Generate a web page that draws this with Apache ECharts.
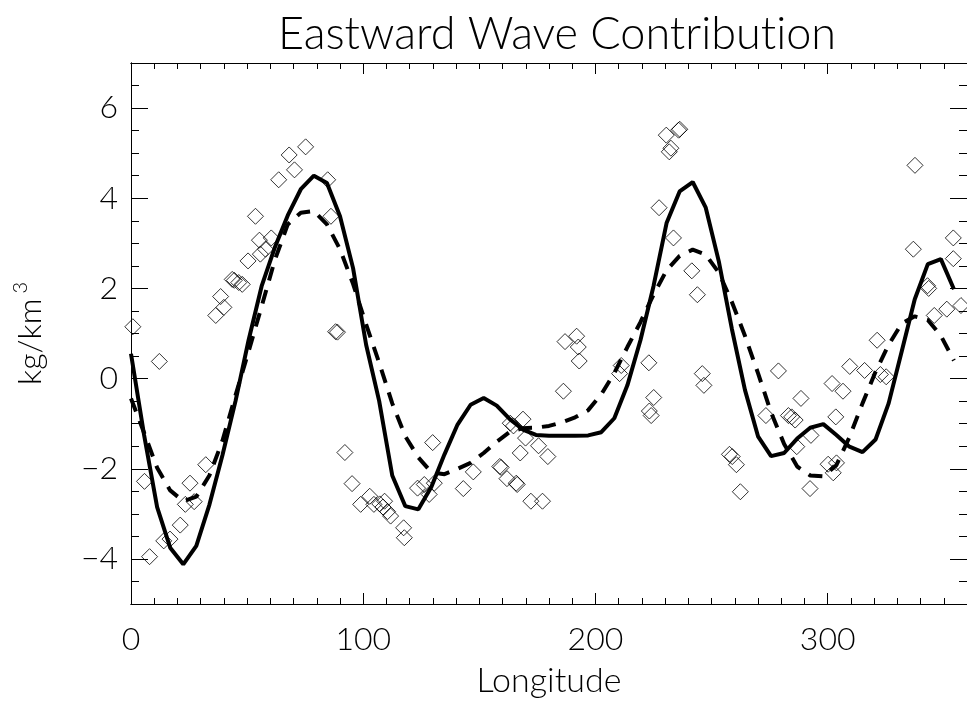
<!DOCTYPE html>
<html>
<head>
<meta charset="utf-8">
<title>Eastward Wave Contribution</title>
<script src="https://cdn.jsdelivr.net/npm/echarts@6/dist/echarts.min.js"></script>
<style>
  html, body { margin: 0; padding: 0; background: #fff; }
  #chart { width: 967px; height: 703px; }
</style>
</head>
<body>
<div id="chart"></div>
<script>
// longitude grid of the two model curves (deg)
const lonGrid = [0, 5.625, 11.25, 16.875, 22.5, 28.125, 33.75, 39.375, 45, 50.625, 56.25, 61.875,
  67.5, 73.125, 78.75, 84.375, 90, 95.625, 101.25, 106.875, 112.5, 118.125, 123.75, 129.375,
  135, 140.625, 146.25, 151.875, 157.5, 163.125, 168.75, 174.375, 180, 185.625, 191.25, 196.875,
  202.5, 208.125, 213.75, 219.375, 225, 230.625, 236.25, 241.875, 247.5, 253.125, 258.75, 264.375,
  270, 275.625, 281.25, 286.875, 292.5, 298.125, 303.75, 309.375, 315, 320.625, 326.25, 331.875,
  337.5, 343.125, 348.75, 354.375]

// solid curve
const solidVals = [0.55, -1.25, -2.85, -3.75, -4.12, -3.71, -2.8, -1.7, -0.5, 0.85, 2.05, 2.9,
  3.62, 4.2, 4.5, 4.34, 3.6, 2.45, 0.75, -0.5, -2.15, -2.83, -2.9, -2.4,
  -1.68, -1.02, -0.58, -0.43, -0.6, -0.9, -1.13, -1.25, -1.27, -1.27, -1.27, -1.26,
  -1.19, -0.88, -0.15, 0.85, 2.05, 3.45, 4.15, 4.36, 3.79, 2.6, 1.1, -0.25,
  -1.28, -1.72, -1.65, -1.33, -1.09, -1.01, -1.25, -1.51, -1.63, -1.35, -0.55, 0.6,
  1.76, 2.54, 2.65, 1.98]

// dashed curve
const dashedVals = [-0.44, -1.2, -1.98, -2.48, -2.72, -2.62, -2.15, -1.38, -0.37, 0.6, 1.6, 2.62,
  3.42, 3.68, 3.72, 3.42, 2.87, 2.1, 1.2, 0.35, -0.55, -1.28, -1.75, -2.08,
  -2.12, -2.0, -1.87, -1.65, -1.4, -1.18, -1.1, -1.09, -1.05, -0.97, -0.86, -0.7,
  -0.35, 0.12, 0.7, 1.25, 1.86, 2.4, 2.72, 2.86, 2.75, 2.35, 1.7, 0.95,
  0.12, -0.75, -1.45, -1.95, -2.15, -2.17, -1.92, -1.3, -0.55, 0.15, 0.75, 1.22,
  1.38, 1.3, 0.95, 0.4]

// observations (diamonds)
const obsLon = [0.8, 12.2, 5.8, 8, 14.1, 16.8, 21.2, 23.4, 27.2, 25.4, 32.2,
  36.5, 38.6, 40, 43.6, 44.5, 46.4, 47.9, 50.4, 53.6, 55.7, 55.3, 57.9, 60.4, 63.6, 68.1, 70.4, 75.2, 84.7, 86.1, 88.1, 88.9,
  92.1, 95.2, 98.9, 102.8, 104.6, 107.1, 109.2, 108.5, 111.8, 110.5, 117.4, 117.7,
  123.4, 126.3, 128.4, 130.6, 129.9, 143.1, 147.4, 158.8, 159.4, 161.9, 165.9, 166.3, 167.6, 163.3, 164.7, 168.8, 169.9, 175.5, 179.5, 172.2, 177.2,
  186.2, 186.9, 191.9, 192.6, 193, 211.1, 210.4, 223, 225.1, 223.2, 224,
  227.4, 230.5, 231.8, 232.5, 235.8, 236.3, 233.6, 241.5, 243.9, 246, 246.7,
  257.7, 258.9, 260.7, 262.4, 278.8, 273.4, 288.5, 283.1, 284.5, 286, 286.7, 292.8, 292.4, 300.2, 302.4, 303.8, 301.9, 306.6, 303.5, 309.5, 315.9, 321.3, 322.7, 325.2,
  337.6, 336.9, 343, 343.5, 351.3, 345.9, 354.1, 354.1, 357.4]
const obsVal = [1.15, 0.38, -2.28, -3.95, -3.6, -3.56, -3.25, -2.79, -2.73, -2.32, -1.91,
  1.4, 1.82, 1.58, 2.2, 2.18, 2.13, 2.09, 2.61, 3.6, 2.76, 3.07, 2.87, 3.12, 4.41, 4.96, 4.63, 5.14, 4.41, 3.6, 1.04, 1.03,
  -1.64, -2.33, -2.79, -2.61, -2.79, -2.78, -2.72, -2.85, -3.05, -2.95, -3.31, -3.53,
  -2.43, -2.35, -2.57, -2.32, -1.42, -2.44, -2.07, -1.95, -1.97, -2.22, -2.32, -2.35, -1.65, -0.99, -1.05, -0.9, -1.32, -1.49, -1.73, -2.72, -2.72,
  -0.28, 0.82, 0.94, 0.7, 0.39, 0.29, 0.11, 0.35, -0.42, -0.72, -0.82,
  3.79, 5.4, 5.03, 5.11, 5.51, 5.53, 3.12, 2.39, 1.86, 0.11, -0.15,
  -1.68, -1.73, -1.91, -2.51, 0.17, -0.82, -0.44, -0.82, -0.85, -0.92, -1.51, -1.26, -2.44, -1.9, -2.09, -1.87, -0.11, -0.28, -0.85, 0.27, 0.18, 0.85, 0.09, 0.04,
  4.73, 2.87, 2.06, 2.0, 1.54, 1.4, 3.12, 2.66, 1.62]

const xMajor = [0, 100, 200, 300]
const yMajor = [-4, -2, 0, 2, 4, 6]

const FONT = 'Lato'
const WEIGHT = 300
const ink = '#000'

const chart = echarts.init(document.getElementById('chart'))

function frameAxis(pos, min, max, interval, tickLen, extra) {
  return Object.assign({
    type: 'value',
    position: pos,
    min: min,
    max: max,
    interval: interval,
    axisLine: { show: true, onZero: false, lineStyle: { color: ink, width: 1 } },
    axisTick: { show: true, inside: true, length: tickLen, lineStyle: { color: ink, width: 1 } },
    axisLabel: { show: false },
    splitLine: { show: false }
  }, extra || {})
}

const minus = v => (v < 0 ? '\u2212' + Math.abs(v) : String(v))
const titleStyle = { fontFamily: FONT, fontSize: 45, fontWeight: WEIGHT, color: ink }

chart.setOption({
  animation: false,
  backgroundColor: '#fff',
  title: {
    // split in two text runs so Lato does not draw a "ti" ligature
    text: 'Eastward Wave Contribut{b|ion}',
    left: 552,
    textAlign: 'center',
    top: 7,
    textStyle: Object.assign({ rich: { b: titleStyle } }, titleStyle)
  },
  grid: { left: 131, top: 63, width: 842, height: 544 },
  xAxis: [
    frameAxis('bottom', 0, 360, 10, 6),
    frameAxis('bottom', 0, 360, 100, 11, {
      axisTick: { show: true, inside: true, length: 11, customValues: xMajor, lineStyle: { color: ink, width: 1 } },
      axisLabel: {
        show: true, customValues: xMajor, margin: 20,
        fontFamily: FONT, fontWeight: WEIGHT, fontSize: 32, color: ink
      },
      name: 'Longitude',
      nameLocation: 'middle',
      nameGap: 60,
      nameTextStyle: { fontFamily: FONT, fontWeight: WEIGHT, fontSize: 34, color: ink }
    }),
    frameAxis('top', 0, 360, 10, 6),
    frameAxis('top', 0, 360, 100, 11, {
      axisTick: { show: true, inside: true, length: 11, customValues: xMajor, lineStyle: { color: ink, width: 1 } }
    })
  ],
  yAxis: [
    frameAxis('left', -5, 7, 0.5, 8),
    frameAxis('left', -5, 7, 0.5, 17, {
      axisTick: { show: true, inside: true, length: 17, customValues: yMajor, lineStyle: { color: ink, width: 1 } },
      axisLabel: {
        show: true, customValues: yMajor, margin: 13, formatter: minus,
        fontFamily: FONT, fontWeight: WEIGHT, fontSize: 32, color: ink
      },
      name: 'kg/km{sup|3}',
      nameLocation: 'middle',
      nameRotate: 90,
      nameGap: 80,
      nameTextStyle: {
        fontFamily: FONT, fontWeight: WEIGHT, fontSize: 32, color: ink,
        rich: { sup: { fontFamily: FONT, fontWeight: WEIGHT, fontSize: 20, color: ink, padding: [0, 0, 20, 5] } }
      }
    }),
    frameAxis('right', -5, 7, 0.5, 8),
    frameAxis('right', -5, 7, 0.5, 17, {
      axisTick: { show: true, inside: true, length: 17, customValues: yMajor, lineStyle: { color: ink, width: 1 } }
    })
  ],
  series: [
    {
      name: 'obs',
      type: 'scatter',
      symbol: 'diamond',
      symbolSize: 16,
      itemStyle: { color: 'rgba(0,0,0,0)', borderColor: ink, borderWidth: 1 },
      data: obsLon.map((x, i) => [x, obsVal[i]])
    },
    {
      name: 'solid',
      type: 'line',
      showSymbol: false,
      lineStyle: { color: ink, width: 4 },
      data: lonGrid.map((x, i) => [x, solidVals[i]])
    },
    {
      name: 'dashed',
      type: 'line',
      showSymbol: false,
      lineStyle: { color: ink, width: 4, type: [14, 10] },
      data: lonGrid.map((x, i) => [x, dashedVals[i]])
    }
  ]
})
</script>
</body>
</html>
